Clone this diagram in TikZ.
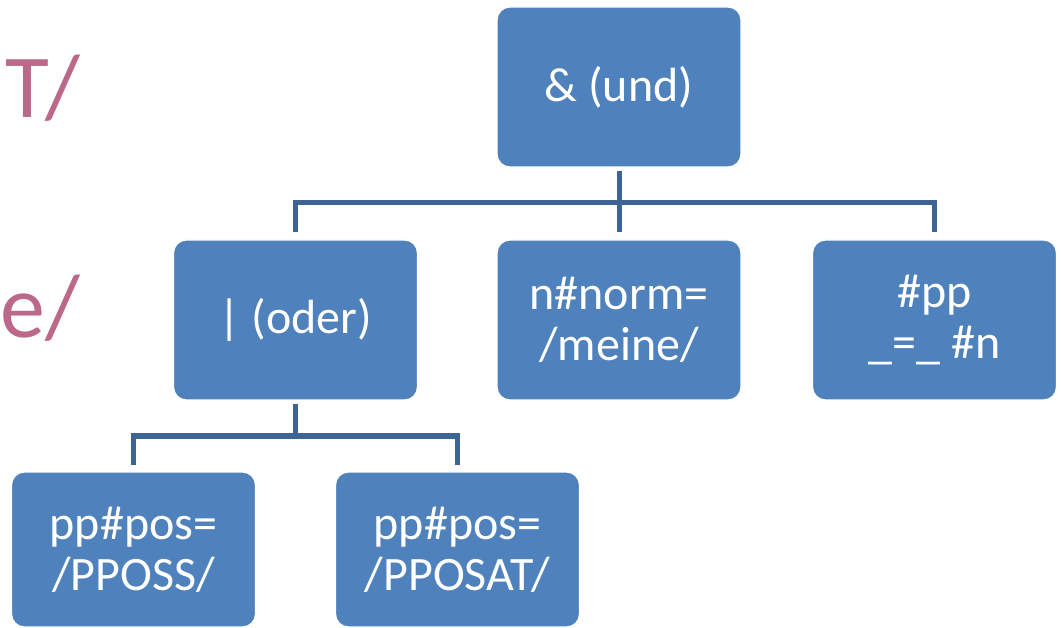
\documentclass[tikz,border=0pt]{standalone}
\usepackage{fontspec}
\setmainfont{Carlito}
\usetikzlibrary{calc}
\definecolor{boxblue}{RGB}{79,129,189}
\definecolor{linkblue}{RGB}{62,100,150}
\definecolor{rosetext}{RGB}{187,104,137}

\begin{document}
\begin{tikzpicture}[x=1pt, y=1pt,
		box/.style={draw=white, line width=1.2pt, fill=boxblue, rounded corners=13pt,
			minimum width=244pt, minimum height=160pt, inner sep=0pt, align=center,
			text=white, font=\fontsize{48}{51}\selectfont},
		link/.style={draw=linkblue, line width=5pt}]
				\useasboundingbox (0,0) rectangle (1061,-628);
				
				% cut off slide text on the left
				\node[anchor=base east, text=rosetext, font=\fontsize{90}{90}\selectfont, inner sep=0pt] (lineT) at (80,-118) {T/};
				\node[anchor=base east, text=rosetext, font=\fontsize{90}{90}\selectfont, inner sep=0pt] (lineE) at (80,-338) {e/};
				
				\node[box] (und) at (619,-87) {\&~(und)};
				
				\node[box] (oder) at (295.5,-320) {|~(oder)};
				\node[box] (norm) at (619,-320) {n\#norm=\\/meine/};
				\node[box] (pp) at (934.5,-320) {\#pp\\\_=\_~\#n};
				
				\node[box, minimum height=155pt] (poss) at (133.5,-549.5) {pp\#pos=\\/PPOSS/};
				\node[box, minimum height=155pt] (posat) at (457.5,-549.5) {pp\#pos=\\/PPOSAT/};
				
				\coordinate (topbar) at (619,-203);
				\coordinate (lowbar) at (295.5,-436);
				
				\draw[link, shorten <=3pt] (und.south) -- (topbar);
				\draw[link, shorten >=7pt] (topbar) -- (norm.north);
				\draw[link, shorten <=7pt, shorten >=7pt] (oder.north) -- (oder.north |- topbar) -- (pp.north |- topbar) -- (pp.north);
				
				\draw[link, shorten <=3pt] (oder.south) -- (lowbar);
				\draw[link, shorten <=6pt, shorten >=6pt] (poss.north) -- (poss.north |- lowbar) -- (posat.north |- lowbar) -- (posat.north);
			\end{tikzpicture}
\end{document}
